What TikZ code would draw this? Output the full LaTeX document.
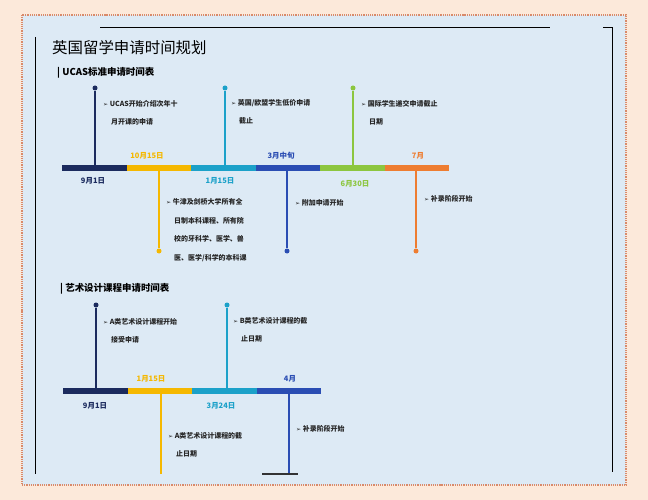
\documentclass[tikz,border=0pt]{standalone}
\usepackage{fontspec}
\setmainfont{Noto Sans CJK SC}
\newfontfamily\symfont{DejaVu Sans}
\definecolor{navy}{HTML}{1B2B5E}
\definecolor{gold}{HTML}{F5B800}
\definecolor{teal}{HTML}{1BA1C9}
\definecolor{royal}{HTML}{2A4DB3}
\definecolor{lime}{HTML}{8CC63F}
\definecolor{orng}{HTML}{EE7D31}
\definecolor{panel}{HTML}{DDEAF5}
\definecolor{peach}{HTML}{FCE9DA}
\definecolor{dotc}{HTML}{D98A6A}
\tikzset{
  seg/.style={line width=6bp},
  stem/.style={line width=1.6bp},
  dot/.style={circle,fill,inner sep=0pt,minimum size=5bp},
  date/.style={font=\bfseries\fontsize{7.5}{9}\selectfont},
  item/.style={anchor=west,align=left,font=\bfseries\fontsize{7}{18.5}\selectfont,text=black!85,inner sep=0pt},
  head/.style={anchor=west,font=\bfseries\fontsize{9.5}{11}\selectfont,inner sep=0pt}
}
\newcommand{\bul}{{\symfont\fontsize{6}{6}\selectfont ➢}\ }
\begin{document}
\begin{tikzpicture}[x=1bp,y=-1bp]
  \useasboundingbox (0,0) rectangle (648,500);
  \fill[peach] (0,0) rectangle (648,500);
  \fill[panel] (22,15) rectangle (626,485);
  \draw[dotc,densely dotted,line width=1.2bp] (22,15) rectangle (626,485);
  \draw[line width=1bp] (35,37) -- (35,474);
  \draw[line width=1bp] (100,28) -- (550,28);
  \draw[line width=1bp] (603,28) -- (612,28) -- (612,472);
  % titles
  \node[anchor=west,inner sep=0pt,font=\fontsize{15.5}{17}\selectfont] (title) at (52,48) {英国留学申请时间规划};
  \node[head] (h1) at (57,73) {| UCAS标准申请时间表};
  \node[head] (h2) at (60,289) {| 艺术设计课程申请时间表};
  % timeline 1
  \coordinate (a0) at (62,168);  \coordinate (a1) at (127,168);
  \coordinate (a2) at (191,168); \coordinate (a3) at (256,168);
  \coordinate (a4) at (320,168); \coordinate (a5) at (385,168);
  \coordinate (a6) at (449,168);
  \draw[seg,navy] (a0) -- (a1);
  \draw[seg,gold] (a1) -- (a2);
  \draw[seg,teal] (a2) -- (a3);
  \draw[seg,royal] (a3) -- (a4);
  \draw[seg,lime] (a4) -- (a5);
  \draw[seg,orng] (a5) -- (a6);
  \node[dot,navy] (p1) at (95,88) {};
  \node[dot,teal] (p3) at (225,88) {};
  \node[dot,lime] (p5) at (353,88) {};
  \node[dot,gold] (p2) at (159,251) {};
  \node[dot,royal] (p4) at (287,251) {};
  \node[dot,orng] (p6) at (416,251) {};
  \draw[stem,navy] (p1) -- (95,165);
  \draw[stem,teal] (p3) -- (225,165);
  \draw[stem,lime] (p5) -- (353,165);
  \draw[stem,gold] (p2) -- (159,171);
  \draw[stem,royal] (p4) -- (287,171);
  \draw[stem,orng] (p6) -- (416,171);
  \node[date,navy] (d1) at (93,181) {9月1日};
  \node[date,gold] (d2) at (147,156) {10月15日};
  \node[date,teal] (d3) at (220,181) {1月15日};
  \node[date,royal] (d4) at (281,156) {3月中旬};
  \node[date,lime] (d5) at (355,184) {6月30日};
  \node[date,orng] (d6) at (418,156) {7月};
  \node[item] (t1) at (103,113) {\bul UCAS开始介绍次年十\\\hspace{8bp}月开课的申请};
  \node[item] (t3) at (231,112) {\bul 英国/欧盟学生低价申请\\\hspace{8bp}截止};
  \node[item] (t5) at (361,113) {\bul 国际学生递交申请截止\\\hspace{8bp}日期};
  \node[item] (t2) at (166,230) {\bul 牛津及剑桥大学所有全\\\hspace{8bp}日制本科课程、所有院\\\hspace{8bp}校的牙科学、医学、兽\\\hspace{8bp}医、医学/科学的本科课};
  \node[item] (t4) at (295,203) {\bul 附加申请开始};
  \node[item] (t6) at (424,199) {\bul 补录阶段开始};
  % timeline 2
  \coordinate (b0) at (63,391);  \coordinate (b1) at (128,391);
  \coordinate (b2) at (192,391); \coordinate (b3) at (257,391);
  \coordinate (b4) at (321,391);
  \draw[seg,navy] (b0) -- (b1);
  \draw[seg,gold] (b1) -- (b2);
  \draw[seg,teal] (b2) -- (b3);
  \draw[seg,royal] (b3) -- (b4);
  \node[dot,navy] (q1) at (96,305) {};
  \node[dot,teal] (q3) at (227,305) {};
  \coordinate (q2) at (161,474);
  \coordinate (q4) at (289,474);
  \draw[stem,navy] (q1) -- (96,388);
  \draw[stem,teal] (q3) -- (227,388);
  \draw[stem,gold] (q2) -- (161,394);
  \draw[stem,royal] (q4) -- (289,394);
  \draw[line width=1.2bp,black!80] (262,474) -- (298,474);
  \node[date,navy] (e1) at (95,406) {9月1日};
  \node[date,gold] (e2) at (151,379) {1月15日};
  \node[date,teal] (e3) at (221,406) {3月24日};
  \node[date,royal] (e4) at (290,379) {4月};
  \node[item] (s1) at (103,331) {\bul A类艺术设计课程开始\\\hspace{8bp}接受申请};
  \node[item] (s3) at (233,330) {\bul B类艺术设计课程的截\\\hspace{8bp}止日期};
  \node[item] (s2) at (168,445) {\bul A类艺术设计课程的截\\\hspace{8bp}止日期};
  \node[item] (s4) at (296,429) {\bul 补录阶段开始};
\end{tikzpicture}
\end{document}
